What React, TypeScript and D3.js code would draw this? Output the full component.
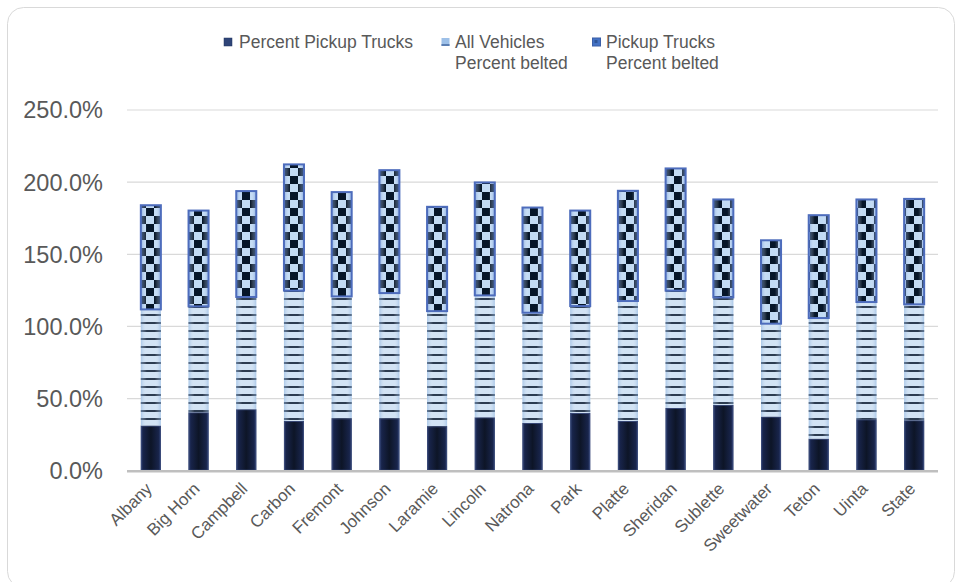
import React from "react";
import * as d3 from "d3";

const categories = ["Albany","Big Horn","Campbell","Carbon","Fremont","Johnson","Laramie","Lincoln","Natrona","Park","Platte","Sheridan","Sublette","Sweetwater","Teton","Uinta","State"];
const percentPickup = [31.3,40.5,42.6,34.5,36.3,36.3,30.8,37.0,33.1,40.0,34.5,43.5,45.6,37.5,22.2,35.6,35.0];
const allVehiclesBelted = [80.5,73.4,77.8,90.3,84.5,86.8,79.8,84.5,76.4,74.1,83.1,81.3,74.5,64.4,83.6,81.3,80.3];
const pickupBelted = [72.2,66.4,73.4,87.5,72.3,85.2,72.3,78.3,72.9,66.2,76.4,84.7,67.9,57.8,71.3,71.1,73.1];
const yTicks = [0,50,100,150,200,250];
const seriesNames = ["Percent Pickup Trucks","All Vehicles\nPercent belted","Pickup Trucks\nPercent belted"];

const W = 956, H = 582;
const left = 127, right = 938, top = 110, bottom = 470.7;
const FONT = "'Liberation Sans', Arial, sans-serif";

export default function App() {
  const x = d3.scaleBand<string>().domain(categories).range([left, right]).paddingInner(0.58).paddingOuter(0.29);
  const y = d3.scaleLinear().domain([0, 250]).range([bottom, top]);
  const rows = categories.map((c, i) => ({ cat: c, a: percentPickup[i], b: allVehiclesBelted[i], c2: pickupBelted[i] }));
  const stack = d3.stack<any>().keys(["a", "b", "c2"]);
  const layers = stack(rows);
  const fills = ["url(#darkGrad)", "url(#stripes)", "url(#checker)"];
  const overlays = [null, "url(#midShade)", "url(#topShade)"];

  return (
    <svg width={W} height={H} style={{ position: "absolute", left: 0, top: 0 }} fontFamily={FONT}>
      <defs>
        <linearGradient id="darkGrad" x1="0" x2="1" y1="0" y2="0">
          <stop offset="0" stopColor="#2e4072" />
          <stop offset="0.12" stopColor="#18244a" />
          <stop offset="0.5" stopColor="#0d1527" />
          <stop offset="0.88" stopColor="#18244a" />
          <stop offset="1" stopColor="#2e4072" />
        </linearGradient>
        <pattern id="stripes" patternUnits="userSpaceOnUse" width="8" height="8" x="0" y="2">
          <rect width="8" height="8" fill="#cde0f3" />
          <rect width="8" height="2" y="0" fill="#15263d" />
        </pattern>
        <linearGradient id="midShade" x1="0" x2="1" y1="0" y2="0">
          <stop offset="0" stopColor="#8fb4df" stopOpacity="0.55" />
          <stop offset="0.3" stopColor="#ffffff" stopOpacity="0.1" />
          <stop offset="0.7" stopColor="#ffffff" stopOpacity="0.1" />
          <stop offset="1" stopColor="#8fb4df" stopOpacity="0.55" />
        </linearGradient>
        <pattern id="checker" patternUnits="userSpaceOnUse" width="16" height="16" x="2" y="0">
          <rect width="16" height="16" fill="#c2dbf4" />
          <rect width="8" height="8" x="0" y="0" fill="#061629" />
          <rect width="8" height="8" x="8" y="8" fill="#061629" />
        </pattern>
        <linearGradient id="topShade" x1="0" x2="1" y1="0" y2="0">
          <stop offset="0" stopColor="#5b86d0" stopOpacity="0.55" />
          <stop offset="0.3" stopColor="#ffffff" stopOpacity="0" />
          <stop offset="0.7" stopColor="#ffffff" stopOpacity="0" />
          <stop offset="1" stopColor="#5b86d0" stopOpacity="0.55" />
        </linearGradient>
      </defs>
      <rect x={7.5} y={7.5} width={947} height={580} rx={16} fill="#ffffff" stroke="#d9d9d9" strokeWidth={1} />

      {yTicks.map((t) => (
        <g key={t}>
          {t > 0 && <line x1={left} x2={right} y1={y(t)} y2={y(t)} stroke="#d9d9d9" strokeWidth={1.2} />}
          <text x={103} y={y(t)} dy="0.36em" textAnchor="end" fontSize={23.5} fill="#595959">
            {t.toFixed(1)}%
          </text>
        </g>
      ))}

      {layers.map((layer, li) => (
        <g key={li}>
          {layer.map((d: any, i: number) => {
            const bx = x(categories[i])!;
            const bw = x.bandwidth();
            const y0 = y(d[1]);
            const h = y(d[0]) - y(d[1]);
            return (
              <g key={i}>
                <rect x={bx} y={y0} width={bw} height={h} fill={fills[li]} />
                {overlays[li] && <rect x={bx} y={y0} width={bw} height={h} fill={overlays[li]!} />}
                {li === 0 && <rect x={bx + 0.5} y={y0 + 0.5} width={bw - 1} height={h - 1} fill="none" stroke="#3a4a78" strokeWidth={1} />}
                {li === 2 && <rect x={bx} y={y0} width={bw} height={h} fill="none" stroke="#4d6cbc" strokeWidth={2} />}
              </g>
            );
          })}
        </g>
      ))}

      <line x1={left} x2={right} y1={bottom + 0.5} y2={bottom + 0.5} stroke="#bfbfbf" strokeWidth={2.5} />

      {categories.map((c) => {
        const cx = x(c)! + x.bandwidth() / 2;
        return (
          <text key={c} transform={`translate(${cx - 2},${bottom + 15}) rotate(-45)`} textAnchor="end" fontSize={17} fill="#595959" dy="0.35em">
            {c}
          </text>
        );
      })}

      {/* legend */}
      <g fontSize={17.5} fill="#595959">
        <rect x={224} y={38} width={8} height={8} fill="#2f4478" stroke="#22345f" strokeWidth={0.5} />
        <text x={239} y={48}>{seriesNames[0]}</text>

        <rect x={441.5} y={38} width={8} height={8} fill="#9dc0e8" />
        <rect x={441.5} y={44} width={8} height={2} fill="#5b7fb3" />
        {seriesNames[1].split("\n").map((s, i) => (
          <text key={i} x={455} y={48 + i * 21}>{s}</text>
        ))}

        <rect x={592.5} y={38} width={8} height={8} fill="#4472c4" stroke="#3a5fa8" strokeWidth={1} />
        <rect x={594.5} y={40} width={3} height={3} fill="#2f5597" />
        {seriesNames[2].split("\n").map((s, i) => (
          <text key={i} x={606} y={48 + i * 21}>{s}</text>
        ))}
      </g>
    </svg>
  );
}
